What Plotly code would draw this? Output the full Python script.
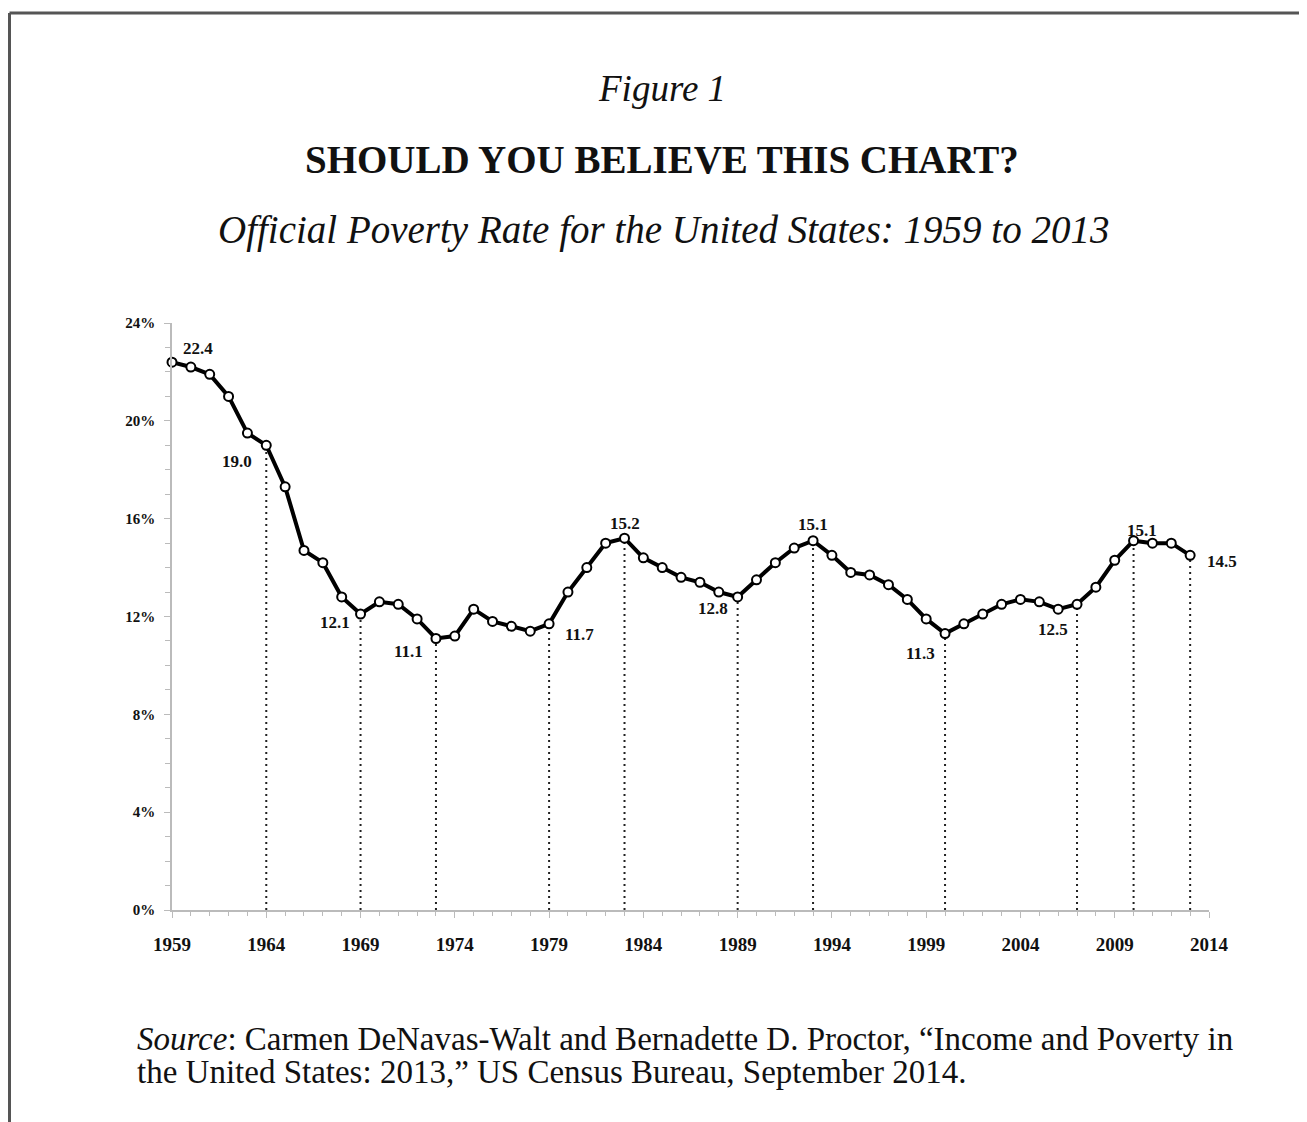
import plotly.graph_objects as go

years = list(range(1959, 2014))
poverty_rate = [22.4, 22.2, 21.9, 21.0, 19.5, 19.0, 17.3, 14.7, 14.2, 12.8,
                12.1, 12.6, 12.5, 11.9, 11.1, 11.2, 12.3, 11.8, 11.6, 11.4,
                11.7, 13.0, 14.0, 15.0, 15.2, 14.4, 14.0, 13.6, 13.4, 13.0,
                12.8, 13.5, 14.2, 14.8, 15.1, 14.5, 13.8, 13.7, 13.3, 12.7,
                11.9, 11.3, 11.7, 12.1, 12.5, 12.7, 12.6, 12.3, 12.5, 13.2,
                14.3, 15.1, 15.0, 15.0, 14.5]

label_years = [1959, 1964, 1969, 1973, 1979, 1983, 1989, 1993, 2000, 2007, 2010, 2013]
drop_years = [1964, 1969, 1973, 1979, 1983, 1989, 1993, 2000, 2007, 2010, 2013]
label_offsets = {1959: (26, 14), 1964: (-29, -16), 1969: (-26, -8), 1973: (-27, -13),
                 1979: (30, -11), 1983: (0, 15), 1989: (-25, -12), 1993: (0, 16),
                 2000: (-25, -20), 2007: (-24, -25), 2010: (8, 10), 2013: (32, -6)}

x_tickvals = list(range(1959, 2015, 5))
y_tickvals = [0, 4, 8, 12, 16, 20, 24]
y_ticktext = [f"{v}%" for v in y_tickvals]

serif = "Liberation Serif, Times New Roman, serif"
rate_of = dict(zip(years, poverty_rate))

# screen geometry (page body adds an 8px offset)
AX_L, AX_R, AX_T, AX_B = 172, 1209, 323, 910
OFF = 8
W, H = 1299, 1114

fig = go.Figure()

for yr in drop_years:
    fig.add_trace(go.Scatter(x=[yr, yr], y=[0, rate_of[yr]], mode="lines",
                             line=dict(color="#222", width=2, dash="2px,4px"),
                             hoverinfo="skip", showlegend=False))

fig.add_trace(go.Scatter(x=years, y=poverty_rate, mode="lines+markers",
                         line=dict(color="black", width=4),
                         marker=dict(symbol="circle", size=9, color="white",
                                     line=dict(color="black", width=2)),
                         cliponaxis=False, showlegend=False))

for yr in label_years:
    dx, dy = label_offsets[yr]
    fig.add_annotation(x=yr, y=rate_of[yr], text=f"<b>{rate_of[yr]:.1f}</b>",
                       showarrow=False, xshift=dx, yshift=dy,
                       font=dict(family=serif, size=17, color="#111"))

fig.update_layout(
    width=W, height=H,
    paper_bgcolor="white", plot_bgcolor="white",
    margin=dict(l=AX_L - OFF, r=W - (AX_R - OFF), t=AX_T - OFF, b=H - (AX_B - OFF)),
    font=dict(family=serif, color="#111"),
    xaxis=dict(range=[1959, 2014], tickvals=x_tickvals, showgrid=False, zeroline=False,
               showline=True, linecolor="#bbb", linewidth=1.5,
               ticks="outside", ticklen=6, tickcolor="#bbb",
               minor=dict(dtick=1, tick0=1959, ticks="outside", ticklen=4, tickcolor="#bbb"),
               tickfont=dict(family=serif, size=19, color="#111", weight="bold"),
               ticklabelstandoff=10),
    yaxis=dict(range=[0, 24], tickvals=y_tickvals, ticktext=y_ticktext, showgrid=False,
               zeroline=False, showline=True, linecolor="#bbb", linewidth=1.5,
               ticks="outside", ticklen=6, tickcolor="#bbb",
               minor=dict(dtick=1, ticks="outside", ticklen=5, tickcolor="#bbb"),
               tickfont=dict(family=serif, size=15, color="#111", weight="bold"),
               ticklabelstandoff=6),
)


def px_x(px):
    return (px - AX_L) / float(AX_R - AX_L)


def px_y(py):
    return (AX_B - py) / float(AX_B - AX_T)


def text_at(x, y, text, size, xanchor="center"):
    fig.add_annotation(x=px_x(x), y=px_y(y), xref="paper", yref="paper", showarrow=False,
                       xanchor=xanchor, yanchor="middle", align="left", text=text,
                       font=dict(family=serif, size=size, color="#111"))


text_at(662, 88, "<i>Figure 1</i>", 37)
text_at(662, 160, "<b>SHOULD YOU BELIEVE THIS CHART?</b>", 39)
text_at(663, 230, "<i>Official Poverty Rate for the United States: 1959 to 2013</i>", 39)
text_at(135, 1039, "<i>Source</i>: Carmen DeNavas-Walt and Bernadette D. Proctor, "
        "\u201cIncome and Poverty in", 33, xanchor="left")
text_at(135, 1072, "the United States: 2013,\u201d US Census Bureau, September 2014.",
        33, xanchor="left")

# page border (top and left)
fig.add_shape(type="line", xref="paper", yref="paper", x0=px_x(9.5), x1=px_x(1330),
              y0=px_y(13), y1=px_y(13), line=dict(color="#555", width=3))
fig.add_shape(type="line", xref="paper", yref="paper", x0=px_x(9.5), x1=px_x(9.5),
              y0=px_y(13), y1=px_y(1140), line=dict(color="#555", width=3))

fig.write_html("out.html")
